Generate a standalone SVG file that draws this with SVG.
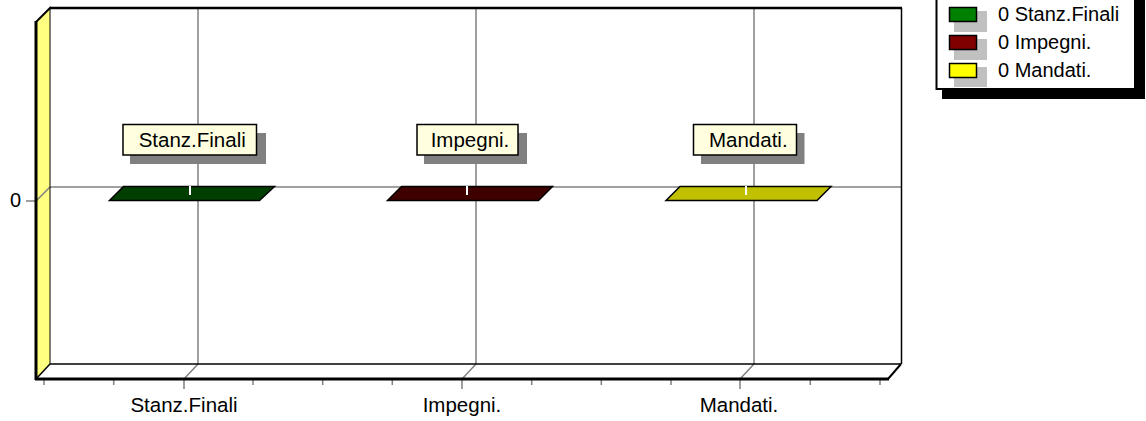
<svg xmlns="http://www.w3.org/2000/svg" width="1146" height="421" viewBox="0 0 1146 421">
<style>
text{font-family:"Liberation Sans",Arial,sans-serif;fill:#000}
.grid{stroke:#808080;stroke-width:1.5;fill:none}
.edge{stroke:#000;fill:none}
.bar{stroke:#000;stroke-width:1.5}
.lbl{fill:#ffffe0;stroke:#000;stroke-width:1.5}
.shd{fill:#808080}
.lt{font-size:20.5px;text-anchor:middle}
.leg{font-size:20px}
.sw{stroke:#000;stroke-width:1.5}
.sws{fill:#c0c0c0}
</style>
<rect width="1146" height="421" fill="#fff"/>
<g id="chart-frame">
<polygon points="36,22 50,8 50,364 36,379" fill="#ffff80"/>
<polygon points="36,379 50,364 901,364 889,379" fill="#fff"/>
</g>
<g id="connectors">
<line class="grid" x1="50" y1="187" x2="901" y2="187"/>
<polyline class="grid" points="50,187 36,201 26,201"/>
<polyline class="grid" points="198,8 198,364 184,379 184,389"/>
<polyline class="grid" points="476,8 476,364 462,379 462,389"/>
<polyline class="grid" points="754,8 754,364 740,379 740,389"/>
<g class="grid">
<line x1="44" y1="379" x2="44" y2="385"/>
<line x1="113.7" y1="379" x2="113.7" y2="385"/>
<line x1="253" y1="379" x2="253" y2="385"/>
<line x1="322.7" y1="379" x2="322.7" y2="385"/>
<line x1="392.3" y1="379" x2="392.3" y2="385"/>
<line x1="531.7" y1="379" x2="531.7" y2="385"/>
<line x1="601.3" y1="379" x2="601.3" y2="385"/>
<line x1="671" y1="379" x2="671" y2="385"/>
<line x1="810.3" y1="379" x2="810.3" y2="385"/>
<line x1="880" y1="379" x2="880" y2="385"/>
</g>
</g>
<g id="chart-edges">
<line class="edge" x1="50" y1="8" x2="902" y2="8" stroke-width="2.5"/>
<line class="edge" x1="901.5" y1="8" x2="901.5" y2="364" stroke-width="1.5"/>
<line class="edge" x1="50" y1="8" x2="50" y2="364" stroke-width="1"/>
<line class="edge" x1="50" y1="364" x2="901" y2="364" stroke-width="1.5"/>
<line class="edge" x1="36" y1="22" x2="51" y2="7" stroke-width="2"/>
<line class="edge" x1="50" y1="364" x2="36" y2="379" stroke-width="1.5"/>
<line class="edge" x1="901" y1="364" x2="888" y2="379" stroke-width="2"/>
<line class="edge" x1="36" y1="21" x2="36" y2="380" stroke-width="3"/>
<line class="edge" x1="35" y1="379" x2="889" y2="379" stroke-width="3"/>
</g>
<g id="axis-labels">
<text x="21" y="207" style="font-size:20px" text-anchor="end">0</text>
<text class="lt" x="184" y="412">Stanz.Finali</text>
<text class="lt" x="462" y="412">Impegni.</text>
<text class="lt" x="739" y="412">Mandati.</text>
</g>
<g id="bar-stanz">
<polygon class="bar" points="123.5,186.5 274.5,186.5 259.5,200.5 109.5,200.5" fill="#003f00"/>
<line x1="190" y1="186" x2="190" y2="195" stroke="#fff" stroke-width="2"/>
</g>
<g id="bar-impegni">
<polygon class="bar" points="401.5,186.5 552.5,186.5 538.5,200.5 387.5,200.5" fill="#3f0000"/>
<line x1="467" y1="186" x2="467" y2="195" stroke="#fff" stroke-width="2"/>
</g>
<g id="bar-mandati">
<polygon class="bar" points="680,186.5 831,186.5 817,200.5 666,200.5" fill="#c0c000"/>
<line x1="746" y1="186" x2="746" y2="195" stroke="#fff" stroke-width="2"/>
</g>
<g id="label-stanz">
<rect class="shd" x="130" y="133" width="136" height="31"/>
<rect class="lbl" x="123" y="124.5" width="133.5" height="30.5"/>
<text class="lt" x="192.2" y="146.7">Stanz.Finali</text>
</g>
<g id="label-impegni">
<rect class="shd" x="424" y="133" width="103" height="31"/>
<rect class="lbl" x="417" y="124.5" width="101" height="30.5"/>
<text class="lt" x="470" y="146.7">Impegni.</text>
</g>
<g id="label-mandati">
<rect class="shd" x="701" y="133" width="103.5" height="31"/>
<rect class="lbl" x="693.5" y="124.5" width="103" height="30.5"/>
<text class="lt" x="748.3" y="146.7">Mandati.</text>
</g>
<g id="legend">
<rect x="942" y="-10" width="203" height="109" fill="#000"/>
<rect x="936.5" y="-10" width="198.5" height="99" fill="#fff" stroke="#000" stroke-width="2"/>
<rect class="sws" x="954" y="11" width="33" height="21"/>
<rect class="sw" x="949.5" y="7.5" width="27" height="14" fill="#008000"/>
<text class="leg" x="998" y="21">0 Stanz.Finali</text>
<rect class="sws" x="954" y="39" width="33" height="21"/>
<rect class="sw" x="949.5" y="35.5" width="27" height="14" fill="#800000"/>
<text class="leg" x="998" y="49">0 Impegni.</text>
<rect class="sws" x="954" y="67" width="33" height="20"/>
<rect class="sw" x="949.5" y="63.5" width="27" height="14" fill="#ffff00"/>
<text class="leg" x="998" y="77">0 Mandati.</text>
</g>
</svg>
